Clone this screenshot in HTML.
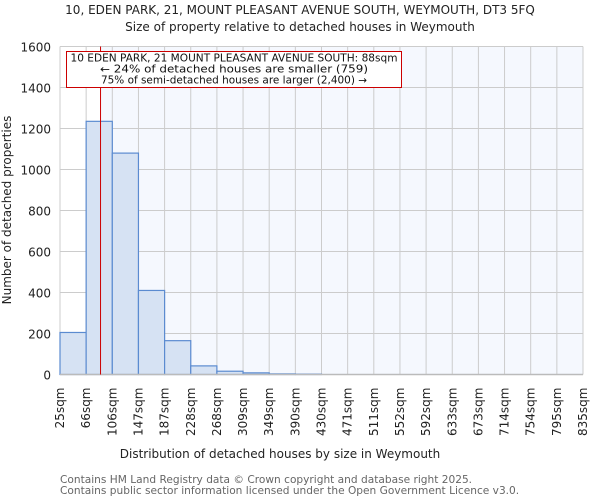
<!DOCTYPE html>
<html><head><meta charset="utf-8"><style>
body{margin:0;background:#fff;font-family:"DejaVu Sans","Liberation Sans",sans-serif;}
svg text{font-family:"DejaVu Sans","Liberation Sans",sans-serif;}
</style></head><body>
<svg id="chart" width="600" height="500" xmlns="http://www.w3.org/2000/svg">
<text x="300" y="14" text-anchor="middle" font-size="12" fill="#222">10, EDEN PARK, 21, MOUNT PLEASANT AVENUE SOUTH, WEYMOUTH, DT3 5FQ</text>
<text x="300" y="31" text-anchor="middle" font-size="12" fill="#222">Size of property relative to detached houses in Weymouth</text>
<g id="plot"></g>
<text x="280" y="458" text-anchor="middle" font-size="12" fill="#222">Distribution of detached houses by size in Weymouth</text>
<text transform="translate(11,210) rotate(-90)" text-anchor="middle" font-size="12" fill="#222">Number of detached properties</text>
<text x="60" y="483" font-size="10.6" fill="#666">Contains HM Land Registry data © Crown copyright and database right 2025.</text>
<text x="60" y="494" font-size="10.6" fill="#666">Contains public sector information licensed under the Open Government Licence v3.0.</text>
</svg>
<script>
const binLabels=["25sqm","66sqm","106sqm","147sqm","187sqm","228sqm","268sqm","309sqm","349sqm","390sqm","430sqm","471sqm","511sqm","552sqm","592sqm","633sqm","673sqm","714sqm","754sqm","795sqm","835sqm"];
const binStarts=[25,66,106,147,187,228,268,309,349,390,430,471,511,552,592,633,673,714,754,795];
const counts=[205,1235,1080,410,165,42,16,8,3,2,0,0,0,0,0,0,0,0,0,0];
const yTicks=[0,200,400,600,800,1000,1200,1400,1600];
const marker=88;
const X0=60,X1=583,Y0=374.5,Y1=46.5,YMAX=1600,XMIN=25,XMAX=835;
const ns="http://www.w3.org/2000/svg";
const g=document.getElementById('plot');
const nb=binStarts.length;
const bw=(X1-X0)/nb;
function xIdx(i){return X0+i*bw;}
function xVal(v){for(let i=0;i<nb;i++){const a=binStarts[i],b=i+1<nb?binStarts[i+1]:XMAX;if(v>=a&&v<=b)return xIdx(i)+(v-a)/(b-a)*bw;}return X1;}
function y(v){return Y0-(v/YMAX)*(Y0-Y1);}
function mk(t,a){const e=document.createElementNS(ns,t);for(const k in a)e.setAttribute(k,a[k]);g.appendChild(e);return e;}
const mx=xVal(marker);
let e=mk('rect',{x:X0,y:Y1,width:X1-X0,height:Y0-Y1,fill:'#f5f8fe'});


e=mk('rect',{x:X0,y:Y1,width:mx-X0,height:Y0-Y1,fill:'#ffffff'});


yTicks.forEach(t=>{
 let l=mk('line',{x1:X0,x2:X1,y1:y(t),y2:y(t),stroke:'#cccccc','stroke-width':1});
 
 
 let tx=mk('text',{x:X0-9,y:y(t)+5,'text-anchor':'end','font-size':'12',fill:'#222'});
 tx.textContent=t;
 
 
});
binLabels.forEach((lab,i)=>{
 const x=xIdx(i);
 let l=mk('line',{x1:x,x2:x,y1:Y1,y2:Y0,stroke:'#cccccc','stroke-width':1});
 
 
 let tx=mk('text',{transform:`translate(${x+4},${Y0+13}) rotate(-90)`,'text-anchor':'end','font-size':'12',fill:'#222'});
 tx.textContent=lab;
 
 
});
counts.forEach((c,i)=>{
 if(c<=0)return;
 let r=mk('rect',{x:xIdx(i),y:y(c),width:bw,height:Y0-y(c),fill:'#d6e2f3',stroke:'#5b8bd0','stroke-width':1.2});
 
 
});
let ax=mk('line',{x1:X0,x2:X1,y1:Y0,y2:Y0,stroke:'#bbbbbb','stroke-width':1.5});


let ml=mk('line',{x1:mx,x2:mx,y1:Y1,y2:Y0,stroke:'#cc0000','stroke-width':1});


let box=mk('rect',{x:66.5,y:51.5,width:335,height:36,fill:'#fff',stroke:'#cc0000','stroke-width':1});


const lines=["10 EDEN PARK, 21 MOUNT PLEASANT AVENUE SOUTH: 88sqm","← 24% of detached houses are smaller (759)","75% of semi-detached houses are larger (2,400) →"];
const lens=[327,268,266];
lines.forEach((s,i)=>{
 let t=mk('text',{x:234,y:61.5+i*11,'text-anchor':'middle','font-size':'10.3',fill:'#111',textLength:lens[i],lengthAdjust:'spacingAndGlyphs'});
 t.textContent=s;
 
 
});
</script>
</body></html>
